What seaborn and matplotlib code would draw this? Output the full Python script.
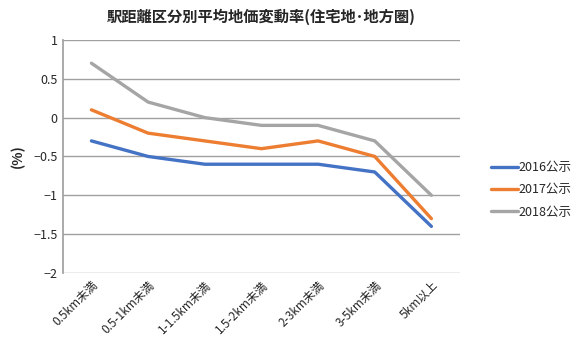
import matplotlib
matplotlib.use("Agg")
import matplotlib.pyplot as plt
import seaborn as sns
import pandas as pd

categories = ["0.5km未満", "0.5-1km未満", "1-1.5km未満", "1.5-2km未満", "2-3km未満", "3-5km未満", "5km以上"]
series_names = ["2016公示", "2017公示", "2018公示"]
v2016 = [-0.3, -0.5, -0.6, -0.6, -0.6, -0.7, -1.4]
v2017 = [0.1, -0.2, -0.3, -0.4, -0.3, -0.5, -1.3]
v2018 = [0.7, 0.2, 0.0, -0.1, -0.1, -0.3, -1.0]
colors = ["#4472C4", "#ED7D31", "#A5A5A5"]
yticks = [1, 0.5, 0, -0.5, -1, -1.5, -2]
ytick_labels = ["1", "0.5", "0", "−0.5", "−1", "−1.5", "−2"]

sns.set_theme(style="white")
plt.rcParams['font.family'] = ['Noto Sans CJK JP', 'DejaVu Sans']

rows = []
for name, vals in zip(series_names, [v2016, v2017, v2018]):
    for i, (c, v) in enumerate(zip(categories, vals)):
        rows.append({"x": i, "cat": c, "series": name, "value": v})
df = pd.DataFrame(rows)

fig = plt.figure(figsize=(5.79, 3.5), dpi=100)
ax = fig.add_axes([0.109, 0.22, 0.685, 0.666])
sns.lineplot(data=df, x="x", y="value", hue="series", palette=colors, linewidth=2.4, ax=ax, legend=True)

ax.set_xlim(-0.5, 6.5)
ax.set_ylim(-2, 1)
ax.set_yticks(yticks)
ax.set_yticklabels(ytick_labels, fontsize=9)
ax.set_xticks(range(len(categories)))
ax.set_xticklabels(categories, rotation=45, ha="right", rotation_mode="anchor", fontsize=8.5)
ax.grid(axis="y", color="#A0A0A0", linewidth=1)
ax.set_axisbelow(True)
for s in ["top", "right", "bottom"]:
    ax.spines[s].set_visible(False)
ax.spines["left"].set_color("#A0A0A0")
ax.tick_params(axis="both", length=0, pad=4)
ax.set_xlabel("")
ax.set_ylabel("(%)", fontsize=10, fontweight="bold", labelpad=6)
fig.suptitle("駅距離区分別平均地価変動率(住宅地･地方圏)", x=0.452, y=0.975, fontsize=11, fontweight="bold")

leg = ax.legend(loc="center left", bbox_to_anchor=(1.05, 0.357), frameon=False, fontsize=9,
                handlelength=2.2, handletextpad=0.0, labelspacing=0.75)

fig.savefig("out.png", dpi=100)
